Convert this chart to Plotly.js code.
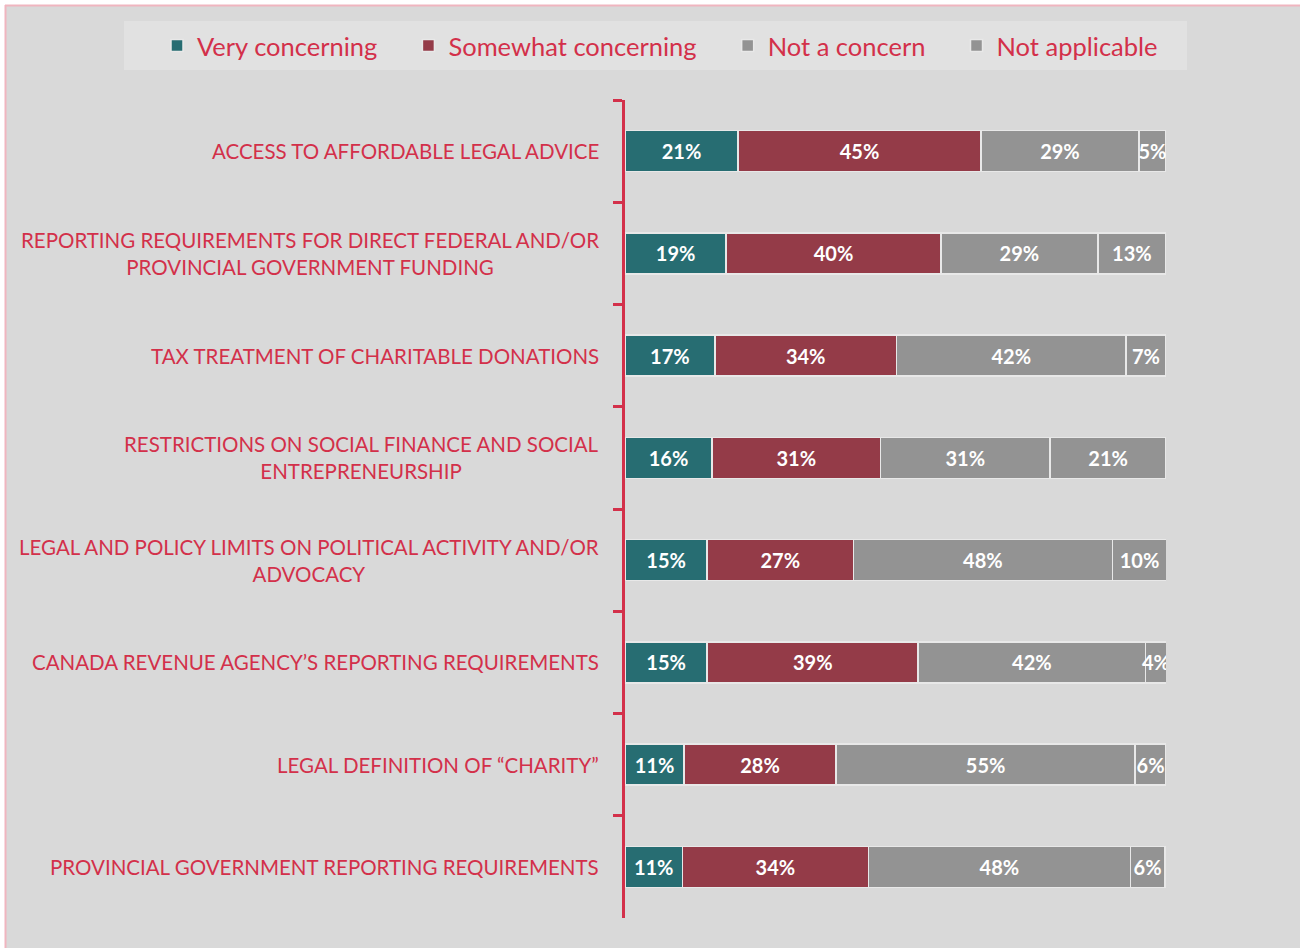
<!DOCTYPE html>
<html>
<head>
<meta charset="utf-8">
<script src="https://cdn.plot.ly/plotly-3.0.1.min.js"></script>
<style>
  html, body { margin: 0; padding: 0; background: #ffffff; }
  #chart { width: 1300px; height: 948px; }
</style>
</head>
<body>
<div id="chart"></div>
<script>
// Issues, top to bottom
const categories = [
  'ACCESS TO AFFORDABLE LEGAL ADVICE',
  'REPORTING REQUIREMENTS FOR DIRECT FEDERAL AND/OR<br>PROVINCIAL GOVERNMENT FUNDING',
  'TAX TREATMENT OF CHARITABLE DONATIONS',
  'RESTRICTIONS ON SOCIAL FINANCE AND SOCIAL<br>ENTREPRENEURSHIP',
  'LEGAL AND POLICY LIMITS ON POLITICAL ACTIVITY AND/OR<br>ADVOCACY',
  'CANADA REVENUE AGENCY\u2019S REPORTING REQUIREMENTS',
  'LEGAL DEFINITION OF \u201CCHARITY\u201D',
  'PROVINCIAL GOVERNMENT REPORTING REQUIREMENTS'
];

// shares in % (labels show them rounded)
const veryConcerning = [20.9, 18.7, 16.6, 16.1, 15.2, 15.2, 10.9, 10.6];
const somewhatConcerning = [44.9, 39.7, 33.6, 31.1, 27.0, 39.0, 28.1, 34.4];
const notAConcern = [29.2, 29.0, 42.4, 31.4, 47.9, 42.0, 55.3, 48.4];
const notApplicable = [5.0, 12.6, 7.4, 21.4, 10.0, 3.9, 5.7, 6.4];

const seriesNames = ['Very concerning', 'Somewhat concerning', 'Not a concern', 'Not applicable'];
const seriesValues = [veryConcerning, somewhatConcerning, notAConcern, notApplicable];
const seriesColors = ['#276d72', '#943b48', '#939393', '#939393'];

const RED = '#d3304a';
const FONT = 'Lato, "Open Sans", sans-serif';
const PAD = '\u00a0\u00a0\u00a0\u00a0'; // extra room between legend entries

// pixel helpers for the plot area (l=625, r=1166, t=100, b=918)
const PL = 625, PR = 1166, PT = 100, PB = 918;
const px = x => (x - PL) / (PR - PL);
const py = y => (PB - y) / (PB - PT);

const traces = seriesNames.map((name, i) => ({
  type: 'bar',
  orientation: 'h',
  name: i < seriesNames.length - 1 ? name + PAD : name,
  y: categories,
  x: seriesValues[i],
  width: 0.4,
  marker: {
    color: seriesColors[i],
    line: { color: '#e8e8e8', width: 1.5 }
  },
  texttemplate: '%{x:.0f}%',
  textposition: 'inside',
  insidetextanchor: 'middle',
  textangle: 0,
  constraintext: 'none',
  textfont: { family: FONT, size: 20, color: '#ffffff', weight: 'bold' },
  hoverinfo: 'skip'
}));

const annotations = categories.map(c => ({
  xref: 'paper',
  yref: 'y',
  x: px(601),
  y: c,
  xanchor: 'right',
  yanchor: 'middle',
  align: 'center',
  text: c,
  showarrow: false,
  font: { family: FONT, size: 20.5, color: RED }
}));

const shapes = [
  // chart area background
  { type: 'rect', xref: 'paper', yref: 'paper', layer: 'below',
    x0: px(5), x1: px(1300), y0: py(948), y1: py(5),
    fillcolor: '#d9d9d9', line: { width: 0 } },
  // pink frame (left and top)
  { type: 'line', xref: 'paper', yref: 'paper', layer: 'below',
    x0: px(5.5), x1: px(5.5), y0: py(948), y1: py(5),
    line: { color: '#f0b5bf', width: 2 } },
  { type: 'line', xref: 'paper', yref: 'paper', layer: 'below',
    x0: px(5), x1: px(1300), y0: py(5.5), y1: py(5.5),
    line: { color: '#f0b5bf', width: 2 } },
  // legend box
  { type: 'rect', xref: 'paper', yref: 'paper', layer: 'below',
    x0: px(124), x1: px(1187), y0: py(70), y1: py(21),
    fillcolor: '#e1e1e1', line: { width: 0 } }
];

const layout = {
  width: 1300,
  height: 948,
  margin: { l: PL, r: 1300 - PR, t: PT, b: 948 - PB, pad: 0, autoexpand: false },
  paper_bgcolor: '#ffffff',
  plot_bgcolor: 'rgba(0,0,0,0)',
  barmode: 'stack',
  bargap: 0.6,
  showlegend: true,
  legend: {
    orientation: 'h',
    x: px(157),
    y: py(46),
    xanchor: 'left',
    yanchor: 'middle',
    bgcolor: 'rgba(0,0,0,0)',
    traceorder: 'normal',
    itemclick: false,
    font: { family: FONT, size: 25.5, color: RED }
  },
  xaxis: {
    visible: false,
    range: [0, 100],
    fixedrange: true
  },
  yaxis: {
    type: 'category',
    autorange: 'reversed',
    showline: true,
    linecolor: RED,
    linewidth: 3,
    ticks: 'outside',
    tickson: 'boundaries',
    ticklen: 9,
    tickwidth: 3,
    tickcolor: RED,
    showticklabels: false,
    showgrid: false,
    zeroline: false,
    fixedrange: true
  },
  shapes: shapes,
  annotations: annotations,
  font: { family: FONT }
};

Plotly.newPlot('chart', traces, layout, { displayModeBar: false, staticPlot: true });
</script>
</body>
</html>
